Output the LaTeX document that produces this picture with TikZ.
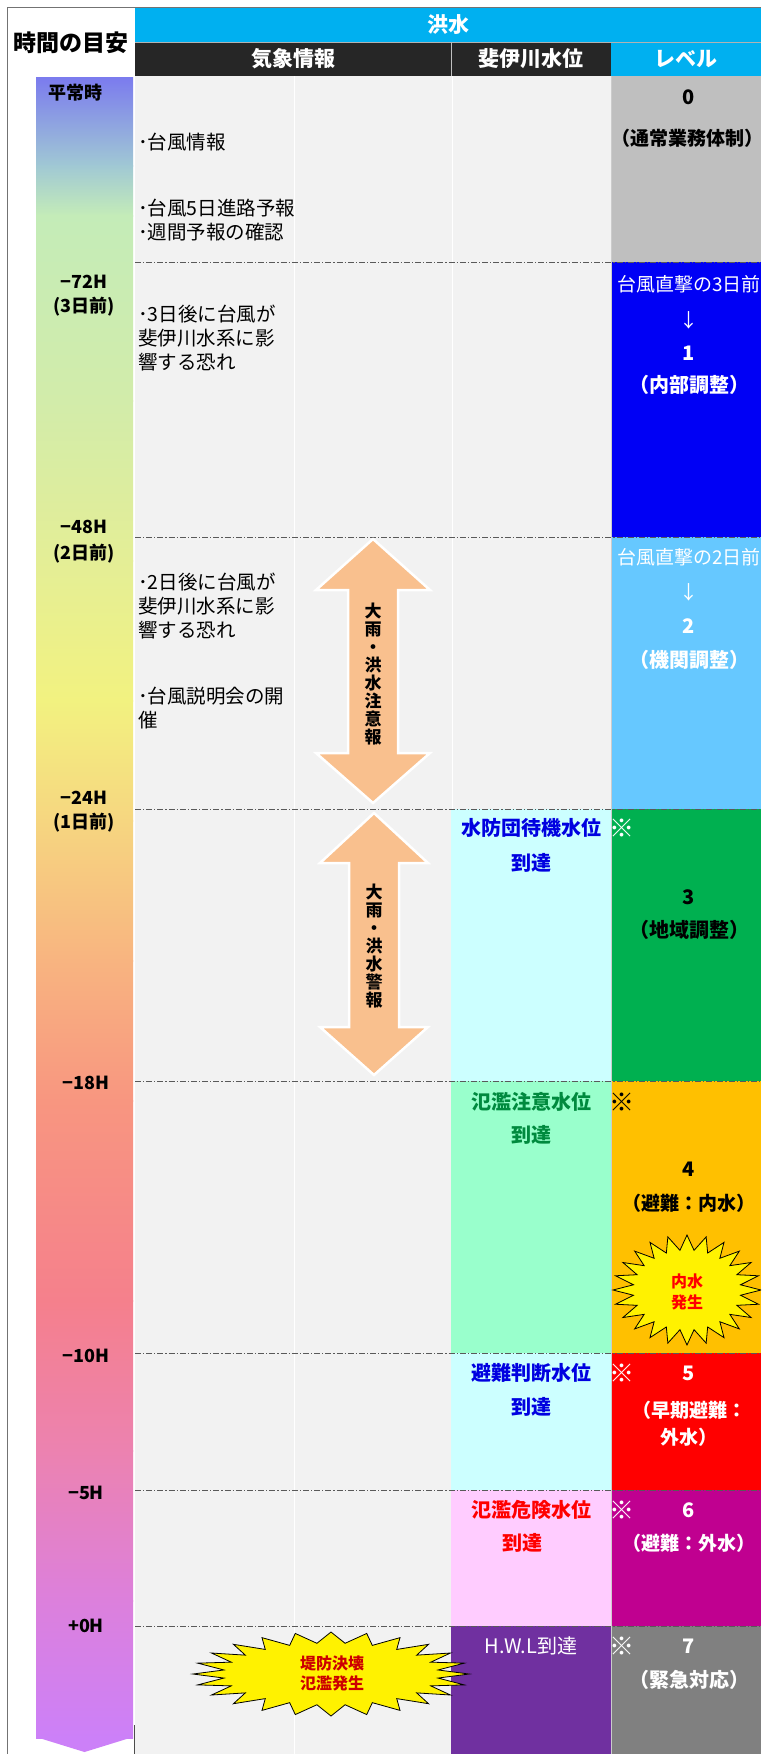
\documentclass[tikz,border=0pt]{standalone}
\usepackage{fontspec}
\setmainfont{Noto Sans CJK JP}
\definecolor{bgc}{HTML}{F2F2F2}
\definecolor{hcyan}{HTML}{00B0F0}
\definecolor{hdark}{HTML}{262626}
\definecolor{lv0}{HTML}{BFBFBF}
\definecolor{lv1}{HTML}{0000F5}
\definecolor{lv2}{HTML}{66C8FF}
\definecolor{lv3}{HTML}{00B050}
\definecolor{lv4}{HTML}{FFC000}
\definecolor{lv5}{HTML}{FF0000}
\definecolor{lv6}{HTML}{C00090}
\definecolor{lv7}{HTML}{808080}
\definecolor{wcyan}{HTML}{CCFFFF}
\definecolor{wmint}{HTML}{99FFCC}
\definecolor{wpink}{HTML}{FFCCFF}
\definecolor{wpurple}{HTML}{7030A0}
\definecolor{peach}{HTML}{F9C08E}
\definecolor{tblue}{HTML}{0000E0}
\definecolor{tgreen}{HTML}{008A3E}
\definecolor{tred}{HTML}{FF0000}
\definecolor{dred}{HTML}{CC0000}
\definecolor{ga}{RGB}{123,123,238}
\definecolor{gb}{RGB}{160,200,212}
\definecolor{gc}{RGB}{196,236,184}
\definecolor{gd}{RGB}{210,236,170}
\definecolor{ge}{RGB}{228,238,150}
\definecolor{gf}{RGB}{242,242,128}
\definecolor{gg}{RGB}{246,214,128}
\definecolor{gh}{RGB}{248,180,128}
\definecolor{gi}{RGB}{248,150,128}
\definecolor{gj}{RGB}{245,128,140}
\definecolor{gk}{RGB}{236,130,176}
\definecolor{gl}{RGB}{220,128,220}
\definecolor{gm}{RGB}{204,128,248}
\tikzset{
  hdr/.style={font=\bfseries\fontsize{23}{25}\selectfont, inner sep=0},
  hw/.style={font=\bfseries\fontsize{21}{23}\selectfont, text=white, inner sep=0},
  tlab/.style={font=\bfseries\fontsize{18}{20}\selectfont, inner sep=0},
  wtxt/.style={font=\fontsize{19.5}{24}\selectfont, anchor=west, align=left, inner sep=0},
  lvt/.style={font=\bfseries\fontsize{20}{22}\selectfont, inner sep=0},
  lvc/.style={font=\bfseries\fontsize{19}{22}\selectfont, inner sep=0},
  kome/.style={font=\bfseries\fontsize{25}{26}\selectfont, inner sep=0},
  lvr/.style={font=\fontsize{19}{21}\selectfont, inner sep=0, text=white},
  wl/.style={font=\bfseries\fontsize{20}{22}\selectfont, inner sep=0},
  vtx/.style={font=\bfseries\fontsize{17}{18}\selectfont, align=center, inner sep=0},
  dd/.style={black!65, line width=0.8, dash pattern=on 6pt off 2pt on 1.2pt off 2pt},
  darrow/.style={fill=peach, draw=white, line width=2.5, line join=miter},
  burst/.style={fill=yellow, draw=black, line width=0.8, line join=miter},
}
\begin{document}
\begin{tikzpicture}[x=1pt,y=-1pt]
\useasboundingbox (0,0) rectangle (761,1754);
\clip (0,0) rectangle (761,1754);
\fill[white] (0,0) rectangle (761,1754);

% header
\fill[hcyan] (135,8) rectangle (761,42);
\fill[hdark] (135,42) rectangle (611,76);
\fill[hcyan] (611,42) rectangle (761,76);
\draw[white!70!black, line width=0.6] (135,42) -- (761,42);
\draw[white!75!black, line width=0.8] (451,42) -- (451,76);
\node[hdr] (tm) at (71,43) {時間の目安};
\node[hw] (fl) at (448,25) {洪水};
\node[hw] (kj) at (293,59) {気象情報};
\node[hw] (hi) at (531,59) {斐伊川水位};
\node[hw] (lvh) at (686,59) {レベル};

% body background
\fill[bgc] (135,76) rectangle (611,1754);
\draw[white, line width=1] (294,76) -- (294,1754);
\draw[white, line width=1] (452,76) -- (452,809);

% water level column
\fill[wcyan] (451,809) rectangle (611,1081);
\fill[wmint] (451,1081) rectangle (611,1353);
\fill[wcyan] (451,1353) rectangle (611,1490);
\fill[wpink] (451,1490) rectangle (611,1626);
\fill[wpurple] (451,1626) rectangle (611,1754);

% level column
\fill[lv0] (611,76) rectangle (761,262);
\fill[lv1] (611,262) rectangle (761,537);
\fill[lv2] (611,537) rectangle (761,809);
\fill[lv3] (611,809) rectangle (761,1081);
\fill[lv4] (611,1081) rectangle (761,1353);
\fill[lv5] (611,1353) rectangle (761,1490);
\fill[lv6] (611,1490) rectangle (761,1626);
\fill[lv7] (611,1626) rectangle (761,1754);
\draw[white!80!black, line width=0.6] (611,76) -- (611,1754);

% dash-dot row lines
\foreach \yy in {262,537,809,1081,1353,1490,1626}
  \draw[dd] (135,\yy) -- (761,\yy);

% frame
\draw[black!55, line width=1] (7,1754) -- (7,7) -- (761,7);
\draw[black!70, line width=1] (134.5,1725) -- (134.5,1754);

% timeline gradient arrow
\foreach \ya/\yb/\ca/\cb in {77/166/ga/gb,165/216/gb/gc,215/401/gc/gd,400/561/gd/ge,560/701/ge/gf,700/821/gf/gg,820/961/gg/gh,960/1101/gh/gi,1100/1301/gi/gj,1300/1451/gj/gk,1450/1601/gk/gl,1600/1738/gl/gm}
  \shade[top color=\ca, bottom color=\cb] (36,\ya) rectangle (133,\yb);
\fill[gm] (36,1737) -- (133,1737) -- (84.5,1752) -- cycle;

% time labels
\node[tlab] (t0) at (75,93) {平常時};
\node[tlab] (t72) at (84,282) {−72H};
\node[tlab] (t72b) at (84,307) {(3日前)};
\node[tlab] (t48) at (84,527) {−48H};
\node[tlab] (t48b) at (84,554) {(2日前)};
\node[tlab] (t24) at (84,798) {−24H};
\node[tlab] (t24b) at (84,823) {(1日前)};
\node[tlab] (t18) at (86,1083) {−18H};
\node[tlab] (t10) at (86,1356) {−10H};
\node[tlab] (t5) at (86,1493) {−5H};
\node[tlab] (t00) at (86,1626) {+0H};

% weather texts
\node[wtxt] (w1) at (138,142) {･台風情報};
\node[wtxt] (w2) at (138,220) {･台風5日進路予報\\･週間予報の確認};
\node[wtxt] (w3) at (138,338) {･3日後に台風が\\斐伊川水系に影\\響する恐れ};
\node[wtxt] (w4) at (138,606) {･2日後に台風が\\斐伊川水系に影\\響する恐れ};
\node[wtxt] (w5) at (138,708) {･台風説明会の開\\催};

% double arrows
\draw[darrow] (373,539) -- (430,590) -- (398,590) -- (398,753) -- (430,753) -- (373,803) -- (316,753) -- (348,753) -- (348,590) -- (316,590) -- cycle;
\node[vtx] (a1) at (373,674) {大\\雨\\・\\洪\\水\\注\\意\\報};
\draw[darrow] (374,813) -- (428,863) -- (399,863) -- (399,1027) -- (428,1027) -- (374,1075) -- (320,1027) -- (349,1027) -- (349,863) -- (320,863) -- cycle;
\node[vtx] (a2) at (374,946) {大\\雨\\・\\洪\\水\\警\\報};

% bursts
\draw[burst] plot[samples=48, domain=0:47] ({687+(74-20*mod(round(\x),2))*cos(\x*7.5)}, {1290+(55-15*mod(round(\x),2))*sin(\x*7.5)}) -- cycle;
\node[font=\bfseries\fontsize{16}{21}\selectfont, text=tred, align=center, inner sep=0] (b1) at (687,1292) {内水\\発生};
\draw[burst] plot[samples=48, domain=0:47] ({331+(138-30*mod(round(\x),2))*cos(\x*7.5)}, {1674+(42-11*mod(round(\x),2))*sin(\x*7.5)}) -- cycle;
\node[font=\bfseries\fontsize{16}{20}\selectfont, text=dred, align=center, inner sep=0] (b2) at (332,1673) {堤防決壊\\氾濫発生};

% water level texts
\node[wl, text=tblue] (s3) at (531,828) {水防団待機水位};
\node[wl, text=tblue] (s3b) at (531,863) {到達};
\node[wl, text=tgreen] (s4) at (531,1102) {氾濫注意水位};
\node[wl, text=tgreen] (s4b) at (531,1135) {到達};
\node[wl, text=tblue] (s5) at (531,1373) {避難判断水位};
\node[wl, text=tblue] (s5b) at (531,1407) {到達};
\node[wl, text=tred] (s6) at (531,1510) {氾濫危険水位};
\node[wl, text=tred] (s6b) at (522,1543) {到達};
\node[font=\fontsize{20}{22}\selectfont, text=white, inner sep=0] (s7) at (531,1646) {H.W.L到達};

% level texts
\node[lvt] (l0) at (689,97) {0};
\node[lvc] (l0b) at (687,138) {（通常業務体制）};
\node[lvr] (l1a) at (689,284) {台風直撃の3日前};
\node[lvr] (l1ar) at (689,320) {↓};
\node[lvt, text=white] (l1) at (689,353) {1};
\node[lvt, text=white] (l1b) at (689,385) {（内部調整）};
\node[lvr] (l2a) at (689,557) {台風直撃の2日前};
\node[lvr] (l2ar) at (689,592) {↓};
\node[lvt, text=white] (l2) at (689,626) {2};
\node[lvt, text=white] (l2b) at (689,660) {（機関調整）};
\node[kome, text=white] (k3) at (622,828) {※};
\node[lvt] (l3) at (689,897) {3};
\node[lvt] (l3b) at (689,930) {（地域調整）};
\node[kome] (k4) at (622,1102) {※};
\node[lvt] (l4) at (689,1169) {4};
\node[lvc] (l4b) at (689,1203) {（避難：内水）};
\node[kome, text=white] (k5) at (622,1373) {※};
\node[lvt, text=white] (l5) at (689,1373) {5};
\node[lvc, text=white] (l5b) at (689,1410) {（早期避難：};
\node[lvc, text=white] (l5c) at (689,1437) {外水）};
\node[kome, text=white] (k6) at (622,1510) {※};
\node[lvt, text=white] (l6) at (689,1510) {6};
\node[lvc, text=white] (l6b) at (689,1543) {（避難：外水）};
\node[kome, text=white] (k7) at (622,1646) {※};
\node[lvt, text=white] (l7) at (689,1646) {7};
\node[lvt, text=white] (l7b) at (689,1680) {（緊急対応）};
\end{tikzpicture}
\end{document}
